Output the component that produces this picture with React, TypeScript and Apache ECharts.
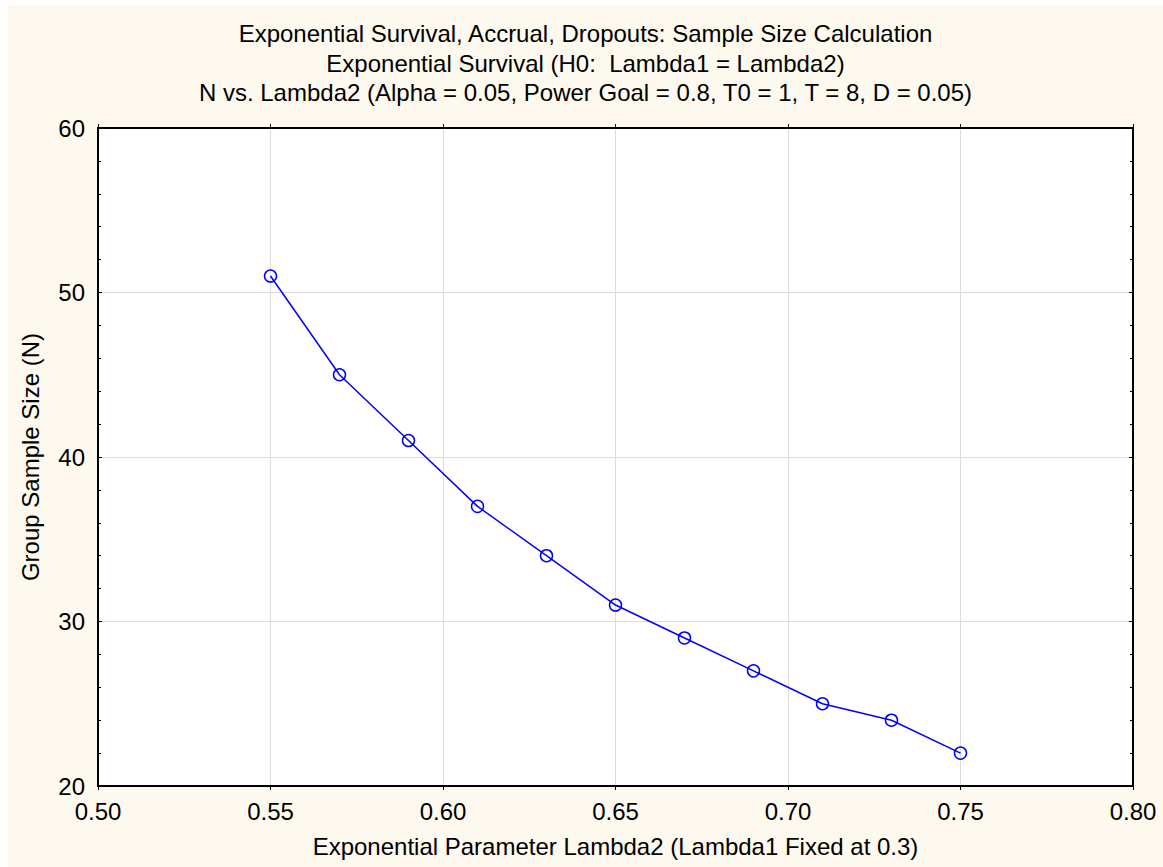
import React, { useEffect, useRef } from "react";
import * as echarts from "echarts";

const titleLines = [
  "Exponential Survival, Accrual, Dropouts: Sample Size Calculation",
  "Exponential Survival (H0:  Lambda1 = Lambda2)",
  "N vs. Lambda2 (Alpha = 0.05, Power Goal = 0.8, T0 = 1, T = 8, D = 0.05)",
];
const xAxisTitle = "Exponential Parameter Lambda2 (Lambda1 Fixed at 0.3)";
const yAxisTitle = "Group Sample Size (N)";
const lambda2 = [0.55, 0.57, 0.59, 0.61, 0.63, 0.65, 0.67, 0.69, 0.71, 0.73, 0.75];
const sampleSize = [51, 45, 41, 37, 34, 31, 29, 27, 25, 24, 22];
const xRange = { min: 0.5, max: 0.8, interval: 0.05 };
const yRange = { min: 20, max: 60, interval: 10 };

const FONT = "'Liberation Sans', Arial, sans-serif";

export default function App() {
  const ref = useRef<HTMLDivElement>(null);
  useEffect(() => {
    if (!ref.current) return;
    const chart = echarts.init(ref.current, undefined, { renderer: "svg" });
    const axisLine = { show: true, lineStyle: { color: "#000", width: 2 } };
    const xBase = {
      type: "value" as const,
      min: xRange.min,
      max: xRange.max,
      interval: xRange.interval,
      axisLine,
      splitLine: { show: false },
      axisTick: { show: true, inside: false, length: 4, lineStyle: { color: "#000", width: 1 } },
    };
    const yBase = {
      type: "value" as const,
      min: yRange.min,
      max: yRange.max,
      interval: yRange.interval,
      axisLine,
      splitLine: { show: false },
      axisTick: { show: true, inside: true, length: 4, lineStyle: { color: "#000", width: 1 } },
      minorTick: { show: true, splitNumber: 5, length: 3, lineStyle: { color: "#000", width: 1 } },
    };
    chart.setOption({
      animation: false,
      backgroundColor: "#fdf9ee",
      textStyle: { fontFamily: FONT },
      title: {
        text: titleLines.join("\n"),
        left: "center",
        top: 9,
        textStyle: {
          fontFamily: FONT,
          fontSize: 24,
          fontWeight: "normal",
          color: "#000",
          lineHeight: 29.5,
        },
      },
      grid: { left: 90, top: 123, right: 30, bottom: 81, show: true, backgroundColor: "#fff", borderWidth: 0 },
      xAxis: [
        {
          ...xBase,
          position: "bottom",
          name: xAxisTitle,
          nameLocation: "middle",
          nameGap: 48,
          nameTextStyle: { fontFamily: FONT, fontSize: 24, color: "#000" },
          splitLine: { show: true, lineStyle: { color: "#dcdcdc", width: 1 } },
          axisLabel: {
            fontFamily: FONT,
            fontSize: 24,
            color: "#000",
            margin: 13,
            formatter: (v: number) => v.toFixed(2),
          },
        },
        {
          ...xBase,
          position: "top",
          axisLabel: { show: false },
        },
      ],
      yAxis: [
        {
          ...yBase,
          position: "left",
          name: yAxisTitle,
          nameLocation: "middle",
          nameGap: 56,
          nameTextStyle: { fontFamily: FONT, fontSize: 24, color: "#000" },
          splitLine: { show: true, lineStyle: { color: "#dcdcdc", width: 1 } },
          axisLabel: { fontFamily: FONT, fontSize: 24, color: "#000", margin: 13 },
        },
        {
          ...yBase,
          position: "right",
          axisLabel: { show: false },
        },
      ],
      series: [
        {
          type: "line",
          data: lambda2.map((x, i) => [x, sampleSize[i]]),
          xAxisIndex: 0,
          yAxisIndex: 0,
          symbol: "circle",
          symbolSize: 12,
          lineStyle: { color: "#0000ff", width: 1.5 },
          itemStyle: { color: "rgba(0,0,0,0)", borderColor: "#0000ff", borderWidth: 1.5 },
          z: 5,
        },
      ],
    });
    return () => chart.dispose();
  }, []);
  return (
    <div style={{ position: "absolute", left: 0, top: 0, width: 1163, height: 867, background: "#fff" }}>
      <div ref={ref} style={{ position: "absolute", left: 8, top: 5, width: 1155, height: 862 }} />
    </div>
  );
}
